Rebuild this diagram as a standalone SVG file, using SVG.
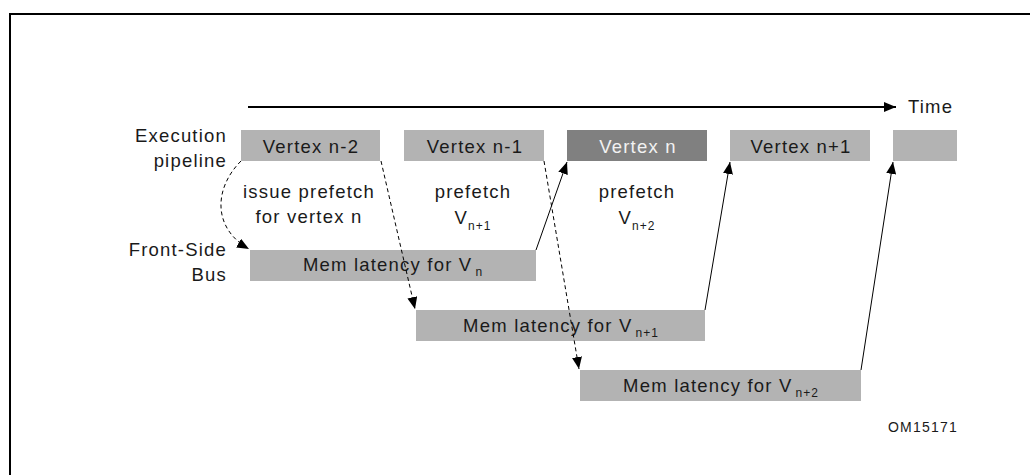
<svg xmlns="http://www.w3.org/2000/svg" width="1030" height="475" viewBox="0 0 1030 475">
<style>
text{font-family:"Liberation Sans",Arial,sans-serif;fill:#1a1a1a;font-size:18.5px;letter-spacing:1.2px}
.c{text-anchor:middle}
.e{text-anchor:end}
.sub{font-size:12px;letter-spacing:1px}
.box{fill:#b3b3b3}
.dark{fill:#808080}
.solid{stroke:#000;stroke-width:1;fill:none}
.dash{stroke:#000;stroke-width:1;fill:none;stroke-dasharray:4 3}
</style>
<defs>
<marker id="ah" viewBox="0 0 12 10" refX="12" refY="5" markerWidth="12" markerHeight="10" markerUnits="userSpaceOnUse" orient="auto">
<path d="M0,0 L12,5 L0,10 z" fill="#000"/>
</marker>
</defs>
<rect width="1030" height="475" fill="#fff"/>
<path d="M10,475 V14 H1030" fill="none" stroke="#000" stroke-width="2"/>

<g id="timeline">
<line x1="248" y1="107" x2="896" y2="107" stroke="#000" stroke-width="2" marker-end="url(#ah)"/>
<text x="908" y="113">Time</text>
</g>

<g id="labels">
<text class="e" x="227" y="142">Execution</text>
<text class="e" x="227" y="167">pipeline</text>
<text class="e" x="227" y="256">Front-Side</text>
<text class="e" x="227" y="281">Bus</text>
<text class="c" x="309" y="198">issue prefetch</text>
<text class="c" x="309" y="223">for vertex n</text>
<text class="c" x="473" y="198">prefetch</text>
<text class="c" x="473" y="224">V<tspan class="sub" dy="6">n+1</tspan></text>
<text class="c" x="637" y="198">prefetch</text>
<text class="c" x="637" y="224">V<tspan class="sub" dy="6">n+2</tspan></text>
<text x="888" y="432" style="font-size:14px;letter-spacing:1.2px">OM15171</text>
</g>

<g id="v-n-2"><rect class="box" x="241" y="130" width="139" height="31"/><text class="c" x="311" y="153">Vertex n-2</text></g>
<g id="v-n-1"><rect class="box" x="404" y="130" width="140" height="31"/><text class="c" x="475" y="153">Vertex n-1</text></g>
<g id="v-n"><rect class="dark" x="567" y="130" width="140" height="31"/><text class="c" x="638" y="153" style="fill:#f2f2f2">Vertex n</text></g>
<g id="v-n1"><rect class="box" x="730" y="130" width="140" height="31"/><text class="c" x="801" y="153">Vertex n+1</text></g>
<g id="v-n2"><rect class="box" x="893" y="130" width="64" height="31"/></g>

<g id="mem-n"><rect class="box" x="250" y="250" width="286" height="31"/><text class="c" x="393" y="271">Mem latency for V<tspan class="sub" dy="5" dx="3">n</tspan></text></g>
<g id="mem-n1"><rect class="box" x="416" y="310" width="289" height="31"/><text class="c" x="561" y="332">Mem latency for V<tspan class="sub" dy="5" dx="3">n+1</tspan></text></g>
<g id="mem-n2"><rect class="box" x="580" y="370" width="281" height="31"/><text class="c" x="721" y="392">Mem latency for V<tspan class="sub" dy="5" dx="3">n+2</tspan></text></g>

<g id="connectors">
<path class="dash" d="M241,161 C214,188 212,228 249,249" marker-end="url(#ah)"/>
<line class="dash" x1="381" y1="161" x2="415" y2="309" marker-end="url(#ah)"/>
<line class="dash" x1="544" y1="161" x2="579" y2="369" marker-end="url(#ah)"/>
<line class="solid" x1="536" y1="250" x2="567" y2="162" marker-end="url(#ah)"/>
<line class="solid" x1="705" y1="310" x2="730" y2="162" marker-end="url(#ah)"/>
<line class="solid" x1="861" y1="370" x2="893" y2="162" marker-end="url(#ah)"/>
</g>
</svg>
